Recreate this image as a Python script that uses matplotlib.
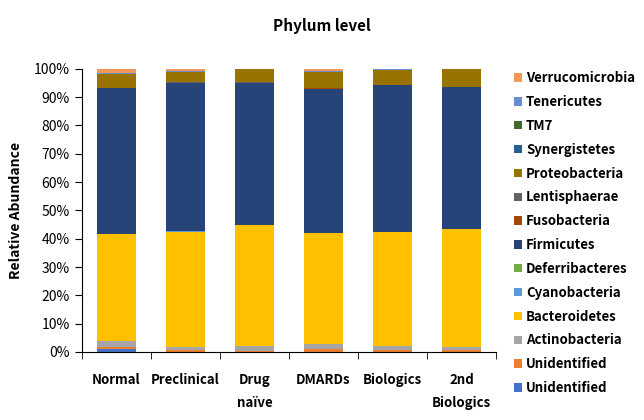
import matplotlib.pyplot as plt
import numpy as np

plt.rcParams['font.family'] = ['Noto Sans CJK KR', 'DejaVu Sans']

groups = ['Normal', 'Preclinical', 'Drug\nnaïve', 'DMARDs', 'Biologics', '2nd\nBiologics']

phyla = ['Unidentified', 'Unidentified', 'Actinobacteria', 'Bacteroidetes', 'Cyanobacteria',
         'Deferribacteres', 'Firmicutes', 'Fusobacteria', 'Lentisphaerae', 'Proteobacteria',
         'Synergistetes', 'TM7', 'Tenericutes', 'Verrucomicrobia']

# relative abundance (%) per group, bottom to top in phyla order
normal      = [1.2, 0.6, 2.2, 37.5, 0.1, 0.0, 51.6, 0.1, 0.1, 4.8, 0.1, 0.0, 0.4, 1.3]
preclinical = [0.1, 0.5, 1.0, 40.9, 0.1, 0.0, 52.4, 0.1, 0.1, 3.7, 0.1, 0.0, 0.4, 0.6]
drug_naive  = [0.1, 0.3, 1.7, 42.9, 0.0, 0.0, 50.0, 0.0, 0.5, 4.3, 0.0, 0.0, 0.0, 0.2]
dmards      = [0.1, 0.8, 1.9, 39.2, 0.1, 0.0, 50.9, 0.1, 0.1, 5.6, 0.1, 0.0, 0.3, 0.8]
biologics   = [0.1, 0.6, 1.5, 40.1, 0.0, 0.0, 51.9, 0.1, 0.1, 5.2, 0.0, 0.0, 0.2, 0.2]
biologics2  = [0.1, 0.5, 1.0, 41.9, 0.0, 0.0, 50.0, 0.0, 0.2, 6.1, 0.0, 0.0, 0.1, 0.1]

colors = ['#4472C4', '#ED7D31', '#A5A5A5', '#FFC000', '#5B9BD5', '#70AD47', '#264478',
          '#9E480E', '#636363', '#997300', '#255E91', '#43682B', '#698ED0', '#F1975A']

data = np.array([normal, preclinical, drug_naive, dmards, biologics, biologics2]).T

fig = plt.figure(figsize=(6.44, 4.2), dpi=100)
ax = fig.add_axes([0.127, 0.162, 0.643, 0.674])

x = np.arange(len(groups))
bottom = np.zeros(len(groups))
handles = []
for vals, c, name in zip(data, colors, phyla):
    h = ax.bar(x, vals, 0.57, bottom=bottom, color=c, label=name, linewidth=0)
    handles.append(h)
    bottom += vals

ax.set_xlim(-0.5, len(groups) - 0.5)
ax.set_ylim(0, 100)
ax.set_yticks(np.arange(0, 101, 10))
ax.set_yticklabels([f'{v}%' for v in range(0, 101, 10)], fontsize=10)
ax.set_xticks(x)
ax.set_xticklabels(groups, fontsize=9.5, fontweight='bold', linespacing=1.85)
ax.set_xticks(np.arange(-0.5, len(groups)), minor=True)
ax.tick_params(axis='x', which='major', length=0, pad=15)
ax.tick_params(axis='x', which='minor', length=5, direction='out')
ax.tick_params(axis='y', length=5, direction='out')
for s in ['top', 'right']:
    ax.spines[s].set_visible(False)
ax.set_ylabel('Relative Abundance', fontsize=10, fontweight='bold', labelpad=8)

fig.text(0.5, 0.937, 'Phylum level', ha='center', va='center', fontsize=11, fontweight='bold')

leg = ax.legend(handles[::-1], phyla[::-1], loc='upper left', bbox_to_anchor=(0.79, 0.843),
                bbox_transform=fig.transFigure, frameon=False, handlelength=0.6, handleheight=0.6,
                handletextpad=0.3, labelspacing=0.745, prop={'size': 9.5, 'weight': 'bold'},
                borderaxespad=0)

fig.savefig('out.png', dpi=100)
